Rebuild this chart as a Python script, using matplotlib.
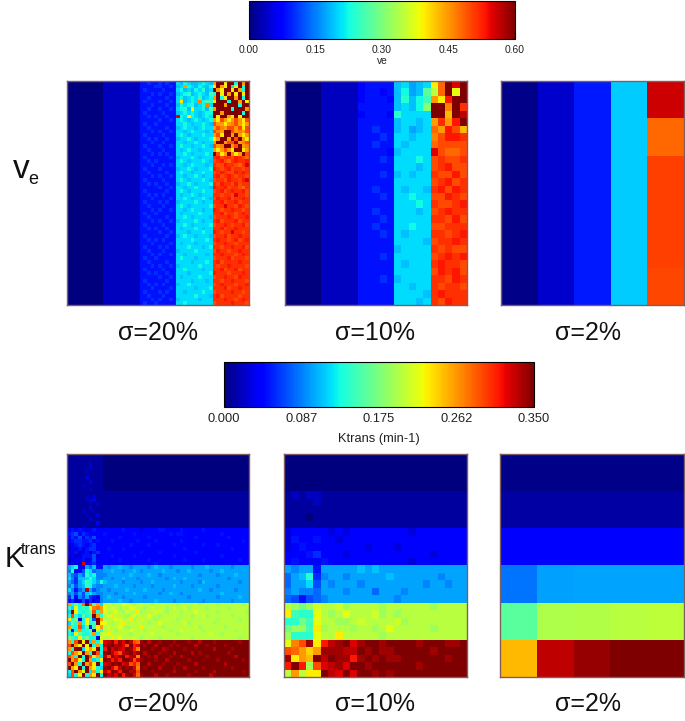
import numpy as np
import matplotlib
matplotlib.use("Agg")
import matplotlib.pyplot as plt
from matplotlib.cm import ScalarMappable
from matplotlib.colors import Normalize

plt.rcParams['font.family'] = ['Liberation Sans', 'DejaVu Sans']

W, H = 685, 721
VE_MAX = 0.60
KT_MAX = 0.35
VE_TICKS = [0.00, 0.15, 0.30, 0.45, 0.60]
VE_TICK_LABELS = ['0.00', '0.15', '0.30', '0.45', '0.60']
KT_TICKS = [0.000, 0.0875, 0.175, 0.2625, 0.350]
KT_TICK_LABELS = ['0.000', '0.087', '0.175', '0.262', '0.350']
NOISE_LABELS = ['σ=20%', 'σ=10%', 'σ=2%']

# cell values, one character per cell: 0..z = 0..1 of the colour bar
LEVELS = '0123456789abcdefghijklmnopqrstuvwxyz'

# ve, sigma 2% (5 columns, 6 rows)
ve_2 = [
    [0.005, 0.040, 0.090, 0.195, 0.560],
    [0.005, 0.040, 0.090, 0.195, 0.480],
    [0.005, 0.040, 0.090, 0.195, 0.505],
    [0.005, 0.040, 0.090, 0.195, 0.505],
    [0.005, 0.040, 0.090, 0.195, 0.505],
    [0.005, 0.040, 0.090, 0.195, 0.500],
]

# ktrans, sigma 2%
kt_2 = [
    [0.003, 0.003, 0.003, 0.003, 0.003],
    [0.012, 0.012, 0.012, 0.012, 0.012],
    [0.044, 0.044, 0.044, 0.044, 0.044],
    [0.084, 0.099, 0.100, 0.101, 0.101],
    [0.160, 0.196, 0.198, 0.200, 0.203],
    [0.250, 0.330, 0.343, 0.350, 0.350],
]

# ve, sigma 10%: the two left columns of blocks are flat, rows hold blocks 3, 4, 5
ve_10_left = '00000 22222'
ve_10 = [
    '45555 bcabc nszwz',
    '45545 bdabg kszmz',
    '45554 bebdf qnvzz',
    '55555 bcbdi zzrzu',
    '45554 ecccc zzpzx',
    '55555 bccbc quqvz',
    '55655 bcabc sqvtp',
    '55565 ccbcc rtvvu',
    '55655 cbccc stttt',
    '55554 bcccc wtsst',
    '55565 cccdc tuttu',
    '55555 cccbc tuvtt',
    '55565 bcbcc uttvt',
    '55555 ccccc tuvtu',
    '55655 cbccb uvtvu',
    '55565 ccdcc ttvut',
    '55555 cccdc uttuv',
    '55655 cccbc tuvuu',
    '55565 ccccc uutvt',
    '55655 ccdcc ttuuu',
    '55565 cbccc uutuv',
    '55555 ccccb tuuvu',
    '55555 bcccc ututt',
    '55565 ccccc tuvuv',
    '55555 cbccc uvuut',
    '55555 ccccc tvuvt',
    '55565 bcccc uutvu',
    '55555 ccbcc utuut',
    '55555 ccccb uvuuu',
    '55555 cccbc utvuu',
]

# ve, sigma 20%: blocks 1 and 2 are flat, rows hold blocks 3, 4, 5
ve_20_left = '0000000000 2222222222'
ve_20 = [
    '5565565655 cbdcbbcdcb qzznzzdzqz',
    '5555665565 bcqdcbdcbd nzqnzcnzdz',
    '5655556555 cdbcbdcebc zqnzznzqdz',
    '5556565565 bcdebcdcbf dznzqznznz',
    '5565555655 cdbcdcebcd qzdnzzqzdz',
    '5655565565 cnbcdcrdfe nzzzdzzqzn',
    '5556555655 bdcdebcdrc zzzqzzzdzz',
    '5565565565 cdebnccdbf qzzzzdzzzq',
    '5655556555 bcdcdcbcdd zzqzzzzzdz',
    '5565655655 wdcndcbcdc znzzqnznzz',
    '5555565565 cdcbcdcbcd qntqnqtqnt',
    '5655655555 ccdcbccdcb tqqnqrtqnq',
    '5565555655 bcdccbcdcc qtrqttqtnt',
    '5556565565 ccbcdcccbc trqzztqrqt',
    '5655556555 cdcbcccdcc qtnzzqzqnq',
    '5565655655 bccdcbcccd nqzzqztzqn',
    '5556556555 ccbccdcbcc qzzqttzqrt',
    '5655565565 cdccbccdcb tqrzzqtzqr',
    '5565556555 cbcdccbccc qnqtqnzznq',
    '5556565655 ccdcbcccdc ztnqzrnqzt',
    '5655555565 bcccdcbccc uvtuutvuts',
    '5565655555 cdcbcccdcb tuvtsuvuuv',
    '5556556565 ccbcdcccbc uttvuutsuw',
    '5655565555 bccdcbcccd vutuvtuutu',
    '5565555655 cdccbccdcc tuvuttvuvu',
    '5556565565 ccbccdcbcc uvtuvutuut',
    '5655556555 cdcbcccdcb tuutvuutvw',
    '5565655655 bccdcbcccd utvuutvtuu',
    '5555565565 ccbccdcccb vuuvtuutsu',
    '5655555655 cdcbcccdcc tuvtuvuuvt',
    '5565656555 cbccdcbccc uutuutwuut',
    '5556555565 ccdcbccdcb tvuuvtuuvu',
    '5655565655 bccccdcbcc uuvtuuvtuu',
    '5565556555 cdcbcccccd tuuwuutvut',
    '5556565565 ccbcdccbcc vutuuvuutu',
    '5655655555 cbccccdccc uuvtuutuvu',
    '5565555655 ccdcbccccb tuuuvutuuv',
    '5556565565 bccccdcbcc uvtuuuvtuu',
    '5655556555 ccdcbccccd tuuvutuuvt',
    '5565655655 cbcccdcbcc uuvtuuvuuu',
    '5555565565 cccbcccdcc vutuuwuutu',
    '5655555655 bcdccbcccb tuuvtuuvuu',
    '5565656555 ccccdcccdc uvuutuvtuv',
    '5556555565 cbcccbcccc tuuvuutuuu',
    '5655565655 cccdcccbcd uutuuvuuvt',
    '5565556555 bccccdcccc tvuutuuvuu',
    '5556565565 ccbcccccbc uuvuuutuvu',
    '5655655555 cdcccbcccc tuuuvtuuut',
    '5565555655 ccccbcccdc uvtuuuuvuu',
    '5556565565 bcccccdccc utuuvuuuut',
    '5655556555 ccdccccbcc uuvtuuvtuu',
    '5565655655 cccbcccccd vuuutuuuvu',
    '5555565565 cbccccdccc tuuvuutvuu',
    '5655555655 ccccbcccbc uutuuvuuut',
    '5565656555 bccdcccccc tuvuuutuuv',
    '5556555565 cccccbcccd uuuvtuuvuu',
    '5655565655 ccbccccdcc tuuuuvuutu',
    '5565556555 cccccdcccb uvtuuuutuu',
    '5556565565 bcccccbccc uuuvuutuvu',
    '5655655555 ccdccccccc tuuuuvuuut',
]

# ktrans, sigma 10% (25 columns, 30 rows)
kt_10 = [
    '00000 00000 00000 00000 00000',
    '00000 00000 00000 00000 00000',
    '00000 00000 00000 00000 00000',
    '00000 00000 00000 00000 00000',
    '00000 00000 00000 00000 00000',
    '12122 11111 11111 11111 11111',
    '11112 11111 11111 11111 11111',
    '11111 11111 11111 11111 11111',
    '11101 11111 11111 11111 11111',
    '11111 11111 11111 11111 11111',
    '34444 43434 44444 44344 44444',
    '35445 44344 44444 44444 44444',
    '34544 44444 43444 34444 44444',
    '44456 44434 44444 44444 34444',
    '45444 54444 44444 44344 44444',
    'a9aa5 aaaaa babaa aaaaa aaaaa',
    '8abe6 9aa9a aaaab aaaaa a9aaa',
    '8aac7 a9aaa 9aaaa aaaa9 aa9aa',
    '9a998 aaa9a aa8aa a9aaa aaaaa',
    '87578 9aaaa aaaaa 9aaaa aaaaa',
    'kjhjl kkljk kkkjk kkkkk jkkkk',
    'nfeem kjkmk kkljk jkkkk kkkkk',
    'eehfm kkjjk lkkkk ljkkk kkkkk',
    'hjjfn jkkkj kkjkm kkkkk jkkkk',
    'jeeem kknkk kkkjk kkkkk kkkkk',
    'mrtyn vxyzw yzzyz zzzyz zzyyz',
    'tsqoq yyyxx zyzyy zzzzz yzzzz',
    'ynqpz xzyyv yzyzy yzzzz zzyzz',
    'vzvjt wxywz zyzzz zzzyz zzzzz',
    'kqknn zxwzw zzyzy zzzzz zzzzz',
]

# ktrans, sigma 20%: left block of 10 columns for every row
kt_20_left = [
    '1111111111', '1111111111', '1111112111', '1111113111', '1111121111',
    '1111111111', '1111131111', '1111113111', '1111211111', '1111112111',
    '1111111111', '1111121311', '1111123411', '1111112121', '1111113111',
    '1111211211', '1111121131', '1111113111', '1111111141', '1111211111',
    '4545434544', '5674654444', '4657465744', '4566556454', '3456545644',
    '2435356644', '4353452564', '3423555734', '2344534744', '3433w45644',
    'acd44a8b55', '9d457dc899', 'b87a8ecd99', 'c96bbcec99', 'a86acfdcad',
    '9b7abeda99', 'c958axa79a', '9a7a7bca99', '6a497a6549', '5634736459',
    'qdhdsztgqc', 'ecmdfdnrsq', 'cznedfhtdq', 'dtecgdfzqe', 'neh3dnf7zq',
    'cgerdmdfzn', 'qedtcg5fnq', 'f5dqdeh3ke', 'dcngedfqdk', 'hfdnfhdd3l',
    'qdtznzcqdn', 'tzqnzmzdqd', 'qdzzcnqnzd', 'dtqnzqdztd', 'tqdzdztnqc',
    'zqtndzqcdn', 'tzqdzqtnzd', 'zqnzdzqndc', 'dtzqmzcqdn', 'ctdmzdqnzd',
]

kt_20_flat_rows = ['0' * 40] * 10 + ['1' * 40] * 10
kt_20_right = kt_20_flat_rows + [
    '4444454444 3444455444 4544444544 4444444444',
    '5444444454 4444444454 5544444444 4454444444',
    '4444544444 4454444444 4444454444 4444544444',
    '4454444445 4444544444 4544444444 4444444454',
    '4444444544 4454444445 4444444544 4544444444',
    '4544454444 4444444444 4454444444 4444454444',
    '4444444444 5444454444 4444454444 4444444444',
    '4454444454 4444444445 4444444444 4454444444',
    '4444544444 4454444444 4454444544 4444444544',
    '4444444444 4444544444 4444444444 4444444444',
    'a9aabaa9aa aa9abaaa9a aaaa9aaaba aaaaa9aaaa',
    'aabaa9aaba 9aaaaabaaa 9aabaaaaa9 aabaaaaaaa',
    '9aaaaaabaa aabaa9aaaa aaaaaa9aaa a9aaaabaaa',
    'aa9aabaaa9 aaaaaaa9ab aabaaaaaaa aaaa9aaaaa',
    'baaaa9aaaa 9aabaaaaaa a9aaaa9baa aaaaaaa9aa',
    'aaabaaaa9a aaa9aaaaab aaaa9aaaaa a9aaaaaaaa',
    'a9aaaabaaa abaaaa9aaa aaaaaabaa9 aaaaaa9aaa',
    'aaa9aaaaba aaaaa9aaba a9aaaaaaaa aabaaaaaaa',
    'abaaa9aaaa a9aaaaaaaa aaa9aaaaaa a9aaaaabaa',
    'aaaabaa9aa aaaabaaaa9 aaaaaaa9aa aaaaa9aaaa',
    'kljkkmlkjk lkkjkklkkk jkkkkljkkk kjkkkkkkjk',
    'mklkjkkmlk kjkmkkkjkl kkljkkkkjk kkkkjkkkkk',
    'lkkmkjlkkn jkkkllkjkk kjkkkmkkkk kjkkkkkkkj',
    'klnkkkjkmk kkmkkjkkkl kkkkjkkljk kkkkkjkkkk',
    'kkkmlkknjk lkkkjkklkk jkkkkkkkkk kjkkkkkjkk',
    'mkjklnkkkl kkjkkmkkkk kkljkkkkkk jkkkkkkkkk',
    'klkkmkjkkk nkklkkjkkk kkkkkljkkk kkkjkkkkkk',
    'kkkjklkmkk kjkkkklkjk kmkkkkkjkk kkkkkkjkkk',
    'lnkkkkkjlk kkkmkkkkkk jkkkkkkkkl kkjkkkkkkk',
    'kknkmkkklk jkkkkjkkkk kkkkjkkkkk kkkkkkkjkk',
    'wxzvywzxts yzxzzyzzzy zzzyzzxzzz yzzzzzzyzz',
    'xyzxywtzvw zyzzxzzzyz yzzzzxzzyz zzzyzzzzzz',
    'vzwyxwzyvr zzzyzzxyzz zzyzzzzzzz xzzzzyzzzz',
    'yzxvtxyzwy zxzzzyzzzx zzzzxzyzzz zzzzyzzzzz',
    'xtzwyzvxyr zzyzxzzzyz zxzzzzzzyz zzzzzzxzzz',
    'zyvxvzzytw yzzzyzzxzz zzzyzzzzzz zyzzzzzzyz',
    'wxzyzwxtvs zzxzzzyzzz yzzzzxzzzz zzzxzzzzzz',
    'yzwtxzyzwr zyzzzxzzzy zzxzzzzyzz zzzzzyzzzz',
    'xvzyvzzxyt zzzyzzzzzx zzzzzyzzzz xzzzzzzzyz',
    'zxywzvyzws yzzzxzzyzz zzzyzzzzzx zzzzzzzzzz',
]


def to_values(rows, vmax):
    cells = [[LEVELS.index(c) / 35 * vmax for c in ''.join(r.split())] for r in rows]
    return np.array(cells)


def px_axes(x0, y0, x1, y1):
    return plt.gcf().add_axes([x0 / W, 1 - y1 / H, (x1 - x0) / W, (y1 - y0) / H])


def draw_panel(box, values, vmax):
    ax = px_axes(*box)
    ax.imshow(values, cmap='jet', vmin=0, vmax=vmax, aspect='auto', interpolation='nearest')
    ax.set_xticks([])
    ax.set_yticks([])
    for spine in ax.spines.values():
        spine.set_color('#7d5f62')
        spine.set_linewidth(1.0)


def draw_colorbar(box, vmax, ticks, tick_labels, label, size, label_pad):
    cax = px_axes(*box)
    sm = ScalarMappable(Normalize(0, vmax), cmap='jet')
    cb = plt.gcf().colorbar(sm, cax=cax, orientation='horizontal')
    cb.set_ticks(ticks)
    cb.set_ticklabels(tick_labels)
    cb.ax.tick_params(length=0, labelsize=size, pad=4, colors='#222222')
    cb.set_label(label, fontsize=size, labelpad=label_pad, color='#222222')
    cb.outline.set_linewidth(0.8)


def put_text(x, y, s, size):
    plt.gcf().text(x / W, 1 - y / H, s, fontsize=size, ha='center', va='center', color='#111111')


def main():
    plt.figure(figsize=(W / 100, H / 100), dpi=100)

    ve_20_full = [ve_20_left + ' ' + r for r in ve_20]
    ve_10_full = [ve_10_left + ' ' + r for r in ve_10]
    kt_20_full = [a + ' ' + b for a, b in zip(kt_20_left, kt_20_right)]

    # Fila ve
    draw_panel((67, 81, 249, 305), to_values(ve_20_full, VE_MAX), VE_MAX)
    draw_panel((285, 81, 467, 305), to_values(ve_10_full, VE_MAX), VE_MAX)
    draw_panel((501, 81, 684, 305), np.array(ve_2), VE_MAX)

    # Fila ktrans
    draw_panel((67, 454, 249, 677), to_values(kt_20_full, KT_MAX), KT_MAX)
    draw_panel((284, 454, 467, 677), to_values(kt_10, KT_MAX), KT_MAX)
    draw_panel((500, 454, 684, 677), np.array(kt_2), KT_MAX)

    draw_colorbar((249, 1, 515, 39), VE_MAX, VE_TICKS, VE_TICK_LABELS, 've', 7.4, 1)
    draw_colorbar((224, 362, 534, 407), KT_MAX, KT_TICKS, KT_TICK_LABELS, 'Ktrans (min-1)', 9.3, 6)

    for x, s in zip([158, 375, 588], NOISE_LABELS):
        put_text(x, 333, s, 18)
        put_text(x, 704, s, 18)

    put_text(21, 169, 'v', 24)
    put_text(33, 180, 'e', 13)
    put_text(14, 559, 'K', 21)
    put_text(39, 550, 'trans', 11.5)

    plt.savefig('out.png', dpi=100)


if __name__ == "__main__":
    main()
